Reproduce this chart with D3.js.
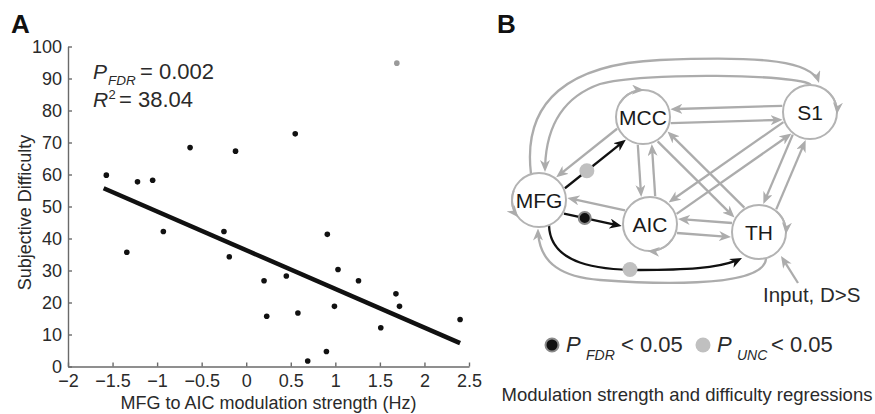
<!DOCTYPE html>
<html><head><meta charset="utf-8">
<script src="https://cdn.jsdelivr.net/npm/d3@7"></script>
<style>
body{margin:0;background:#fff}
svg{display:block}
text{font-family:"Liberation Sans", Arial, Helvetica, sans-serif}
</style>
</head><body>
<svg id="c" width="875" height="414"></svg>
<script>
// ---------- Panel A data ----------
const xValues = [-1.57,-1.22,-1.05,-0.63,-0.12,0.55,-1.34,-0.93,-0.25,-0.19,0.91,0.20,0.45,1.03,1.26,1.68,1.72,0.99,0.23,0.58,1.51,2.40,0.90,0.69];
const yValues = [59.8,57.7,58.2,68.4,67.3,72.7,35.7,42.2,42.2,34.3,41.3,26.8,28.3,30.3,26.8,22.7,18.8,18.8,15.7,16.7,12.1,14.7,4.7,1.7];
const outlierX = [1.69];
const outlierY = [94.8];
const fitX = [-1.60, 2.40];
const fitY = [55.7, 7.3];
const xTicks = [-2,-1.5,-1,-0.5,0,0.5,1,1.5,2,2.5];
const xTickLabels = ["\u22122","\u22121.5","\u22121","\u22120.5","0","0.5","1","1.5","2","2.5"];
const yTicks = [0,10,20,30,40,50,60,70,80,90,100];
const yTickLabels = ["0","10","20","30","40","50","60","70","80","90","100"];

// ---------- Panel B data ----------
const nodeNames = ["MFG","MCC","S1","AIC","TH"];
const pairA = ["MCC","MCC","MCC","S1","S1","AIC"];
const pairB = ["S1","AIC","TH","AIC","TH","TH"];
const sigFrom = ["MFG","MFG"];
const sigTo   = ["MCC","AIC"];
const sigLevel = ["unc","fdr"];
const selfLoops = ["MFG","MCC","S1","AIC","TH"];

// ---------- layout ----------
const svg = d3.select("#c");
const axisColor = "#6a6a6a";
const textColor = "#2a2a2a";
const grey = "#acacac";

const x = d3.scaleLinear().domain([-2,2.5]).range([68,469]);
const y = d3.scaleLinear().domain([0,100]).range([366.5,46.5]);

const gA = svg.append("g");
const xAxis = d3.axisBottom(x).tickValues(xTicks).tickFormat((d,i)=>xTickLabels[i])
  .tickSizeInner(-4).tickSizeOuter(0).tickPadding(8);
const yAxis = d3.axisLeft(y).tickValues(yTicks).tickFormat((d,i)=>yTickLabels[i])
  .tickSizeInner(-4).tickSizeOuter(0).tickPadding(6);
const gx = gA.append("g").attr("transform","translate(0,366.5)").call(xAxis);
const gy = gA.append("g").attr("transform","translate(68,0)").call(yAxis);
[gx,gy].forEach(g=>{
  g.attr("font-family",null).attr("font-size",null);
  g.select(".domain").attr("stroke",axisColor).attr("stroke-width",1.4);
  g.selectAll(".tick line").attr("stroke",axisColor).attr("stroke-width",1.4);
  g.selectAll(".tick text").attr("fill",textColor).style("font-size","18px");
});

gA.append("text").attr("x",268.5).attr("y",408.5).attr("text-anchor","middle")
  .attr("fill",textColor).style("font-size","18px").text("MFG to AIC modulation strength (Hz)");
gA.append("text").attr("transform","translate(31,212.5) rotate(-90)").attr("text-anchor","middle")
  .attr("fill",textColor).style("font-size","18px").text("Subjective Difficulty");

gA.append("line")
  .attr("x1",x(fitX[0])).attr("y1",y(fitY[0])).attr("x2",x(fitX[1])).attr("y2",y(fitY[1]))
  .attr("stroke","#111").attr("stroke-width",4.5);

gA.selectAll("circle.pt").data(xValues).enter().append("circle").attr("class","pt")
  .attr("cx",d=>x(d)).attr("cy",(d,i)=>y(yValues[i])).attr("r",2.8).attr("fill","#111");
gA.selectAll("circle.out").data(outlierX).enter().append("circle").attr("class","out")
  .attr("cx",d=>x(d)).attr("cy",(d,i)=>y(outlierY[i])).attr("r",2.8).attr("fill","#9a9a9a");

// annotation
const t1 = gA.append("text").attr("y",79).attr("fill",textColor);
t1.append("tspan").attr("x",93).style("font-style","italic").style("font-size","21px").text("P");
t1.append("tspan").attr("x",108).attr("dy",6).style("font-style","italic").style("font-size","13.5px").text("FDR");
t1.append("tspan").attr("x",140).attr("dy",-6).style("font-size","22px").text("= 0.002");
const t2 = gA.append("text").attr("y",107).attr("fill",textColor);
t2.append("tspan").attr("x",93).style("font-style","italic").style("font-size","21px").text("R");
t2.append("tspan").attr("x",108.5).attr("dy",-8).style("font-size","13px").text("2");
t2.append("tspan").attr("x",119).attr("dy",8).style("font-size","22px").text("= 38.04");

svg.append("text").attr("x",11).attr("y",33).style("font-size","26px").style("font-weight","bold").attr("fill","#111").text("A");
svg.append("text").attr("x",497).attr("y",33).style("font-size","26px").style("font-weight","bold").attr("fill","#111").text("B");

// ---------- Panel B ----------
const pos = {MFG:[539,200], MCC:[643,117], S1:[810,112], AIC:[650,224], TH:[759,232]};
const R = 27;
const defs = svg.append("defs");
function marker(id,color){
  defs.append("marker").attr("id",id).attr("viewBox","0 0 12 10").attr("markerWidth",12).attr("markerHeight",10)
    .attr("refX",12).attr("refY",5).attr("orient","auto").attr("markerUnits","userSpaceOnUse")
    .append("path").attr("d","M0,0L12,5L0,10L3.5,5Z").attr("fill",color);
}
marker("ag",grey); marker("ab","#111");

const gB = svg.append("g");
const gEdges = gB.append("g");
const gNodes = gB.append("g");
const gLoops = gB.append("g");
const gDots = gB.append("g");

function trimDash(sel){
  sel.each(function(){ const L=this.getTotalLength(); d3.select(this).attr("stroke-dasharray",(L-6)+","+(L+10)); });
}
function straight(a,b,off){
  const [x1,y1]=pos[a],[x2,y2]=pos[b];
  const dx=x2-x1, dy=y2-y1, L=Math.hypot(dx,dy), ux=dx/L, uy=dy/L, px=-uy, py=ux;
  const s=Math.sqrt(R*R-off*off)+1.5;
  return [[x1+ux*s+px*off, y1+uy*s+py*off],[x2-ux*s+px*off, y2-uy*s+py*off]];
}
const line = d3.line();
function drawPath(g,d,color,mk,w){
  const p = g.append("path").attr("d",d).attr("fill","none").attr("stroke",color)
    .attr("stroke-width",w||2.3).attr("marker-end","url(#"+mk+")");
  trimDash(p);
  return p;
}
// bidirectional grey pairs
pairA.forEach((a,i)=>{
  const b = pairB[i];
  drawPath(gEdges,line(straight(a,b,7)),grey,"ag");
  drawPath(gEdges,line(straight(b,a,7)),grey,"ag");
});
// significant (black) from MFG + grey back
const dotPos = [];
sigFrom.forEach((a,i)=>{
  const b = sigTo[i];
  const off = b==="AIC"?8:7;
  const seg = straight(a,b,off);
  drawPath(gEdges,line(seg),"#111","ab");
  drawPath(gEdges,line(straight(b,a,off)),grey,"ag");
  const t = 0.36;
  dotPos.push({x:seg[0][0]+(seg[1][0]-seg[0][0])*t, y:seg[0][1]+(seg[1][1]-seg[0][1])*t, lvl:sigLevel[i]});
});
// big arcs
let p1 = d3.path(); p1.moveTo(531,174); p1.bezierCurveTo(522,100,570,64,660,60); p1.bezierCurveTo(760,56,812,60,819,83);
drawPath(gEdges,p1.toString(),grey,"ag");
let p2 = d3.path(); p2.moveTo(811,85); p2.bezierCurveTo(800,74,640,72,600,84); p2.bezierCurveTo(560,98,545,130,545,172);
drawPath(gEdges,p2.toString(),grey,"ag");
// grey TH -> MFG bottom
let p3 = d3.path(); p3.moveTo(766,259); p3.bezierCurveTo(763,290,640,283,600,280); p3.bezierCurveTo(560,277,538,262,538,228.5);
drawPath(gEdges,p3.toString(),grey,"ag");
// black MFG -> TH
let p4 = d3.path(); p4.moveTo(549,225); p4.bezierCurveTo(550,265,600,270,640,270); p4.bezierCurveTo(690,270,722,268,742,258);
drawPath(gEdges,p4.toString(),"#111","ab");
dotPos.push({x:630,y:269.5,lvl:"unc"});
// input arrow
drawPath(gEdges,line([[798,283],[781,256]]),grey,"ag");

// nodes
gNodes.selectAll("circle").data(nodeNames).enter().append("circle")
  .attr("cx",d=>pos[d][0]).attr("cy",d=>pos[d][1]).attr("r",R)
  .attr("fill","#fff").attr("stroke","#b3b3b3").attr("stroke-width",2);
gNodes.selectAll("text").data(nodeNames).enter().append("text")
  .attr("x",d=>pos[d][0]).attr("y",d=>pos[d][1]).attr("dy","0.36em").attr("text-anchor","middle")
  .style("font-size","21px").attr("fill","#1a1a1a").text(d=>d);

// self loops (drawn on the node outline, arrowhead only stands out)
const loopAngles = {MFG:[200,140], MCC:[-150,-88], S1:[-50,5], AIC:[35,95], TH:[-50,5]};
selfLoops.forEach(n=>{
  const [a0,a1] = loopAngles[n];
  const p = d3.path();
  p.arc(pos[n][0],pos[n][1],R,a0*Math.PI/180,a1*Math.PI/180,a1<a0);
  drawPath(gLoops,p.toString(),"#b3b3b3","ag",2);
});

// dots
gDots.selectAll("circle").data(dotPos).enter().append("circle")
  .attr("cx",d=>d.x).attr("cy",d=>d.y).attr("r",d=>d.lvl==="fdr"?6:7.5)
  .attr("fill",d=>d.lvl==="fdr"?"#111":"#c0c0c0")
  .attr("stroke",d=>d.lvl==="fdr"?"#8a8a8a":"none").attr("stroke-width",2);

// input label
gB.append("text").attr("x",763).attr("y",302).style("font-size","20.5px").attr("fill",textColor).text("Input, D>S");

// legend
gB.append("circle").attr("cx",552).attr("cy",345).attr("r",6.5).attr("fill","#111").attr("stroke","#8a8a8a").attr("stroke-width",2);
const l1 = gB.append("text").attr("y",352).attr("fill",textColor);
l1.append("tspan").attr("x",566).style("font-style","italic").style("font-size","22px").text("P");
l1.append("tspan").attr("x",586).attr("dy",8).style("font-style","italic").style("font-size","14px").text("FDR");
l1.append("tspan").attr("x",621).attr("dy",-8).style("font-size","22px").text("< 0.05");
gB.append("circle").attr("cx",703).attr("cy",345).attr("r",7.5).attr("fill","#c0c0c0");
const l2 = gB.append("text").attr("y",352).attr("fill",textColor);
l2.append("tspan").attr("x",717).style("font-style","italic").style("font-size","22px").text("P");
l2.append("tspan").attr("x",737).attr("dy",8).style("font-style","italic").style("font-size","14px").text("UNC");
l2.append("tspan").attr("x",771).attr("dy",-8).style("font-size","22px").text("< 0.05");

gB.append("text").attr("x",687).attr("y",401).attr("text-anchor","middle").style("font-size","18.5px")
  .attr("fill",textColor).text("Modulation strength and difficulty regressions");
</script>
</body></html>
